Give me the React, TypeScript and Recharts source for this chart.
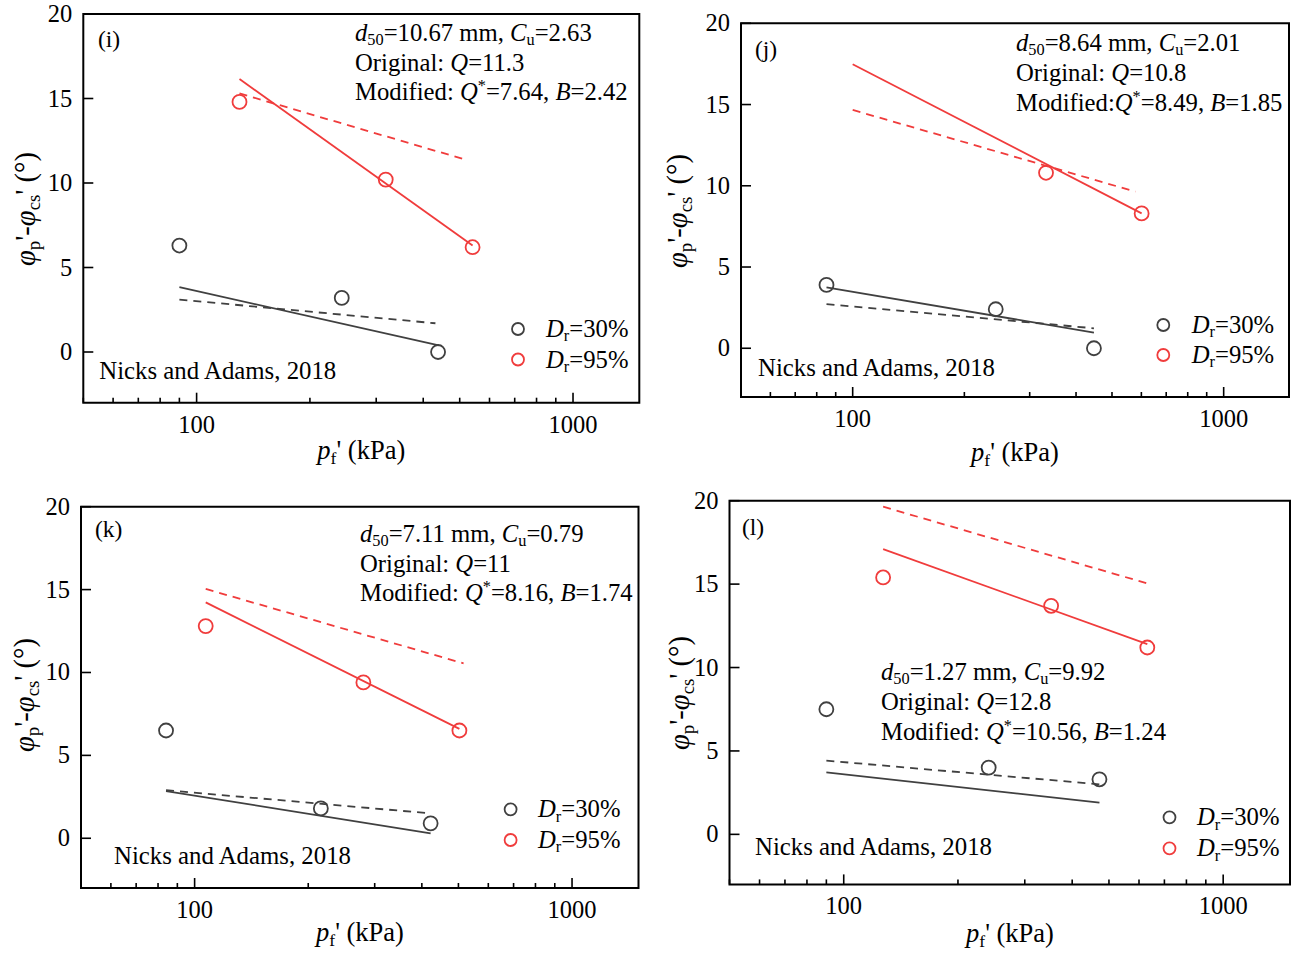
import React from 'react';
import { ComposedChart, Scatter, XAxis, YAxis, ReferenceArea } from 'recharts';

const RED = '#f03c3c';
const GRAY = '#404040';
const FONT = '"Liberation Serif", "Times New Roman", Times, serif';
const W = 1295;
const H = 954;

// axis ticks
const xTicks = [50, 60, 70, 80, 90, 100, 200, 300, 400, 500, 600, 700, 800, 900, 1000];
const xMajor = [100, 1000];
const yTicks = [0, 5, 10, 15, 20];
const xDomain = [50, 1500];
const yDomain = [-3, 20];

// panel (i)
const iGray = [{ x: 90, y: 6.3 }, { x: 243, y: 3.2 }, { x: 438, y: 0 }];
const iRed = [{ x: 130, y: 14.8 }, { x: 318, y: 10.2 }, { x: 541, y: 6.2 }];
const iRedSolid = [{ x: 130, y: 16.15 }, { x: 541, y: 6.3 }];
const iRedDash = [{ x: 130, y: 15.3 }, { x: 524, y: 11.35 }];
const iGraySolid = [{ x: 90, y: 3.84 }, { x: 440, y: 0.39 }];
const iGrayDash = [{ x: 90, y: 3.1 }, { x: 431, y: 1.7 }];

// panel (j)
const jGray = [{ x: 85, y: 3.9 }, { x: 243, y: 2.4 }, { x: 447, y: 0 }];
const jRed = [{ x: 332, y: 10.8 }, { x: 601, y: 8.3 }];
const jRedSolid = [{ x: 100, y: 17.48 }, { x: 601, y: 8.3 }];
const jRedDash = [{ x: 100, y: 14.67 }, { x: 578, y: 9.64 }];
const jGraySolid = [{ x: 85, y: 3.75 }, { x: 447, y: 0.96 }];
const jGrayDash = [{ x: 85, y: 2.72 }, { x: 447, y: 1.23 }];

// panel (k)
const kGray = [{ x: 84, y: 6.5 }, { x: 216, y: 1.8 }, { x: 422, y: 0.9 }];
const kRed = [{ x: 107, y: 12.8 }, { x: 280, y: 9.4 }, { x: 503, y: 6.5 }];
const kRedSolid = [{ x: 107, y: 14.23 }, { x: 503, y: 6.6 }];
const kRedDash = [{ x: 107, y: 15.04 }, { x: 516, y: 10.55 }];
const kGraySolid = [{ x: 84, y: 2.85 }, { x: 422, y: 0.3 }];
const kGrayDash = [{ x: 84, y: 2.9 }, { x: 422, y: 1.5 }];

// panel (l)
const lGray = [{ x: 90, y: 7.5 }, { x: 241, y: 4.0 }, { x: 472, y: 3.3 }];
const lRed = [{ x: 127, y: 15.4 }, { x: 352, y: 13.7 }, { x: 631, y: 11.2 }];
const lRedSolid = [{ x: 127, y: 17.1 }, { x: 631, y: 11.4 }];
const lRedDash = [{ x: 127, y: 19.64 }, { x: 631, y: 15.04 }];
const lGraySolid = [{ x: 90, y: 3.72 }, { x: 472, y: 1.9 }];
const lGrayDash = [{ x: 90, y: 4.42 }, { x: 472, y: 3.0 }];

type Seg = { t: string; i?: boolean; sub?: boolean; sup?: boolean };

const info = (d50: string, cu: string, q: string, qs: string, b: string, gap = ' '): Seg[][] => [
  [{ t: 'd', i: true }, { t: '50', sub: true }, { t: '=' + d50 + ' mm, ' }, { t: 'C', i: true }, { t: 'u', sub: true }, { t: '=' + cu }],
  [{ t: 'Original: ' }, { t: 'Q', i: true }, { t: '=' + q }],
  [{ t: 'Modified:' + gap }, { t: 'Q', i: true }, { t: '*', sup: true }, { t: '=' + qs + ', ' }, { t: 'B', i: true }, { t: '=' + b }],
];

const legendLabels: Seg[][] = [
  [{ t: 'D', i: true }, { t: 'r', sub: true }, { t: '=30%' }],
  [{ t: 'D', i: true }, { t: 'r', sub: true }, { t: '=95%' }],
];
const xLabel: Seg[] = [{ t: 'p', i: true }, { t: 'f', sub: true }, { t: "'" }, { t: ' (kPa)' }];
const yLabel: Seg[] = [
  { t: 'φ', i: true }, { t: 'p', sub: true }, { t: "'" }, { t: '-' },
  { t: 'φ', i: true }, { t: 'cs', sub: true }, { t: "'" }, { t: ' (°)' },
];
const refText = 'Nicks and Adams, 2018';

const panels = [
  {
    id: 'i', L: 83.3, T: 14, R: 639.3, B: 402.7,
    gray: iGray, red: iRed, redSolid: iRedSolid, redDash: iRedDash, graySolid: iGraySolid, grayDash: iGrayDash,
    tag: { x: 98, y: 46.7 }, info: { x: 355, y: [41, 71, 100], lines: info('10.67', '2.63', '11.3', '7.64', '2.42') },
    ref: { x: 99.3, y: 379.3 }, legend: { cx: 518, cy: [329, 359.5], tx: 546 },
    xl: { x: 361.3, y: 459 }, yl: { x: 35, y: 209 },
  },
  {
    id: 'j', L: 741, T: 23.3, R: 1289, B: 397,
    gray: jGray, red: jRed, redSolid: jRedSolid, redDash: jRedDash, graySolid: jGraySolid, grayDash: jGrayDash,
    tag: { x: 755, y: 56.7 }, info: { x: 1016, y: [51, 81, 111], lines: info('8.64', '2.01', '10.8', '8.49', '1.85', '') },
    ref: { x: 758, y: 376 }, legend: { cx: 1163.3, cy: [325, 355], tx: 1191.7 },
    xl: { x: 1015, y: 461 }, yl: { x: 687, y: 211 },
  },
  {
    id: 'k', L: 81, T: 506.7, R: 638.5, B: 888,
    gray: kGray, red: kRed, redSolid: kRedSolid, redDash: kRedDash, graySolid: kGraySolid, grayDash: kGrayDash,
    tag: { x: 95, y: 536.7 }, info: { x: 360, y: [541.5, 572, 601], lines: info('7.11', '0.79', '11', '8.16', '1.74') },
    ref: { x: 114, y: 864 }, legend: { cx: 510.6, cy: [809.3, 840], tx: 538 },
    xl: { x: 360, y: 941 }, yl: { x: 34, y: 695 },
  },
  {
    id: 'l', L: 729.5, T: 500.7, R: 1290, B: 884.4,
    gray: lGray, red: lRed, redSolid: lRedSolid, redDash: lRedDash, graySolid: lGraySolid, grayDash: lGrayDash,
    tag: { x: 742, y: 535 }, info: { x: 881, y: [680, 710, 740], lines: info('1.27', '9.92', '12.8', '10.56', '1.24') },
    ref: { x: 755, y: 855 }, legend: { cx: 1169.5, cy: [817.3, 848.3], tx: 1197 },
    xl: { x: 1010, y: 942 }, yl: { x: 689, y: 693 },
  },
];

function Rich({ x, y, segs, size = 24.7, anchor = 'start', transform }: { x: number; y: number; segs: Seg[]; size?: number; anchor?: string; transform?: string }) {
  let cur = 0;
  const kids = segs.map((s, k) => {
    const target = s.sub ? size * 0.18 : s.sup ? -size * 0.36 : 0;
    const dy = target - cur;
    cur = target;
    return (
      <tspan key={k} dy={dy} fontStyle={s.i ? 'italic' : 'normal'} fontSize={s.sub || s.sup ? size * 0.66 : size}>
        {s.t}
      </tspan>
    );
  });
  return (
    <text x={x} y={y} fontSize={size} fontFamily={FONT} fill="#000" textAnchor={anchor as any} transform={transform} style={{ whiteSpace: 'pre' }}>
      {kids}
    </text>
  );
}

const XTick = (props: any) => {
  const { x, y, payload } = props;
  const v = payload.value;
  const major = xMajor.includes(v);
  return (
    <g>
      <line x1={x} x2={x} y1={y} y2={y - (major ? 10 : 5)} stroke="#000" strokeWidth={1.6} />
      {major && (
        <text x={x} y={y + 30} textAnchor="middle" fontSize={24.5} fontFamily={FONT} fill="#000">
          {v}
        </text>
      )}
    </g>
  );
};

const YTick = (props: any) => {
  const { x, y, payload } = props;
  return (
    <g>
      <line x1={x} x2={x + 10} y1={y} y2={y} stroke="#000" strokeWidth={1.6} />
      <text x={x - 11} y={y + 8} textAnchor="end" fontSize={24.5} fontFamily={FONT} fill="#000">
        {payload.value}
      </text>
    </g>
  );
};

const Empty = () => <g />;
const circleShape = (color: string) => (props: any) => (
  <circle cx={props.cx} cy={props.cy} r={7} fill="none" stroke={color} strokeWidth={1.8} />
);

function PanelChart({ p }: { p: any }) {
  const margin = { left: p.L - 1, top: p.T, right: W - p.R, bottom: H - p.B - 1 };
  const solid = (c: string) => ({ stroke: c, strokeWidth: 1.8 });
  const dashed = (c: string) => ({ stroke: c, strokeWidth: 1.8, strokeDasharray: '8 6' });
  return (
    <div style={{ position: 'absolute', left: 0, top: 0 }}>
      <ComposedChart width={W} height={H} margin={margin}>
        <XAxis dataKey="x" type="number" scale="log" domain={xDomain} ticks={xTicks} interval={0}
          tick={(t: any) => <XTick {...t} />} tickLine={false} axisLine={false} tickSize={0} tickMargin={0} height={1} allowDataOverflow />
        <YAxis dataKey="y" type="number" domain={yDomain} ticks={yTicks} interval={0}
          tick={(t: any) => <YTick {...t} />} tickLine={false} axisLine={false} tickSize={0} tickMargin={0} width={1} allowDataOverflow />
        <ReferenceArea x1={50} x2={1500} y1={-3} y2={20} fill="none" fillOpacity={0} stroke="#000" strokeWidth={2} strokeOpacity={1} ifOverflow="visible" />
        <Scatter data={p.grayDash} line={dashed(GRAY)} shape={Empty} isAnimationActive={false} />
        <Scatter data={p.graySolid} line={solid(GRAY)} shape={Empty} isAnimationActive={false} />
        <Scatter data={p.redDash} line={dashed(RED)} shape={Empty} isAnimationActive={false} />
        <Scatter data={p.redSolid} line={solid(RED)} shape={Empty} isAnimationActive={false} />
        <Scatter data={p.gray} shape={circleShape(GRAY)} isAnimationActive={false} />
        <Scatter data={p.red} shape={circleShape(RED)} isAnimationActive={false} />
      </ComposedChart>
    </div>
  );
}

function Overlay() {
  return (
    <svg width={W} height={H} style={{ position: 'absolute', left: 0, top: 0, pointerEvents: 'none' }}>
      {panels.map((p) => (
        <g key={p.id}>
          <text x={p.tag.x} y={p.tag.y} fontSize={23.5} fontFamily={FONT} fill="#000">({p.id})</text>
          {p.info.lines.map((ln, k) => (
            <Rich key={k} x={p.info.x} y={p.info.y[k]} segs={ln} />
          ))}
          <text x={p.ref.x} y={p.ref.y} fontSize={24.8} fontFamily={FONT} fill="#000">{refText}</text>
          {[GRAY, RED].map((c, k) => (
            <g key={k}>
              <circle cx={p.legend.cx} cy={p.legend.cy[k]} r={6} fill="none" stroke={c} strokeWidth={1.8} />
              <Rich x={p.legend.tx} y={p.legend.cy[k] + 8} segs={legendLabels[k]} />
            </g>
          ))}
          <Rich x={p.xl.x} y={p.xl.y} segs={xLabel} size={26.5} anchor="middle" />
          <Rich x={p.yl.x} y={p.yl.y} segs={yLabel} size={28.5} anchor="middle" transform={`rotate(-90, ${p.yl.x}, ${p.yl.y})`} />
        </g>
      ))}
    </svg>
  );
}

export default function App() {
  return (
    <div style={{ position: 'absolute', left: 0, top: 0, width: W, height: H, background: '#fff' }}>
      {panels.map((p) => (
        <PanelChart key={p.id} p={p} />
      ))}
      <Overlay />
    </div>
  );
}
